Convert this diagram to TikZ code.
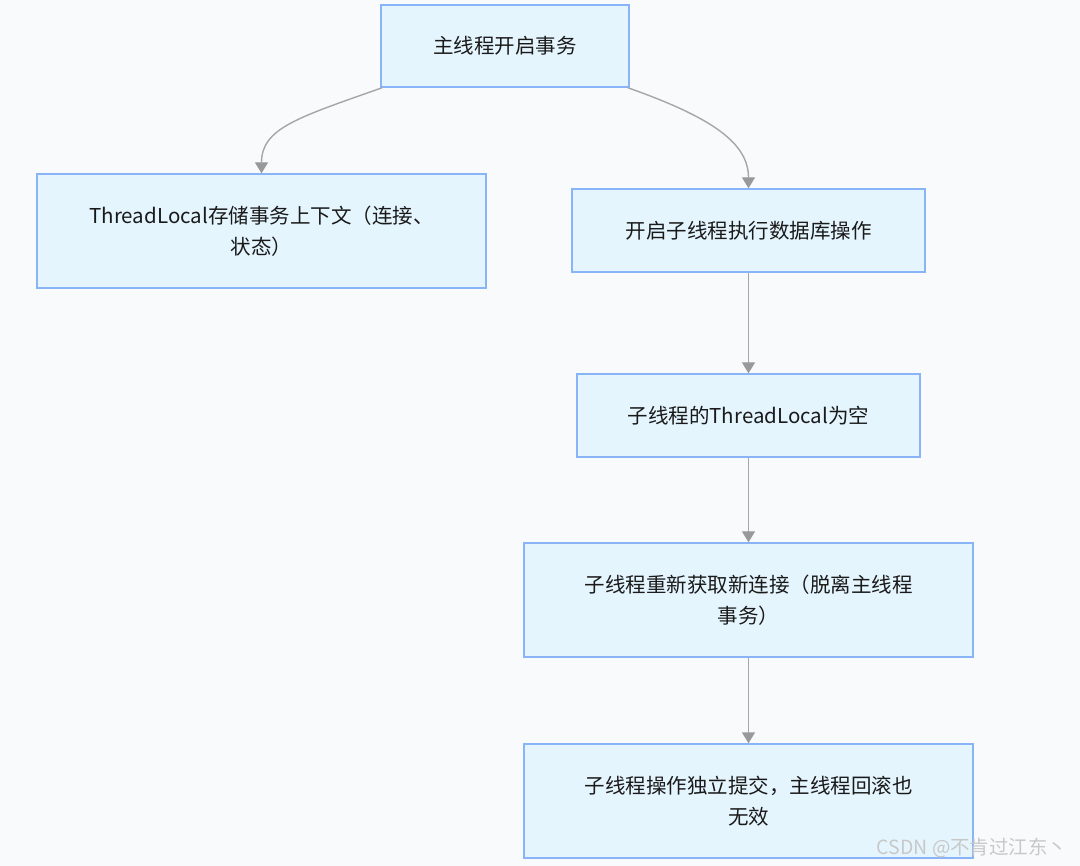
\documentclass[tikz,border=0pt]{standalone}
\usepackage{fontspec}
\setmainfont{Noto Sans CJK SC}
\usetikzlibrary{arrows.meta}
\definecolor{bgc}{HTML}{F8FAFC}
\definecolor{boxfill}{HTML}{E5F5FE}
\definecolor{boxline}{HTML}{8AB4F8}
\definecolor{edgec}{HTML}{A6A6A6}
\definecolor{tipc}{HTML}{999999}
\definecolor{txt}{HTML}{1A1A1A}
\definecolor{wm}{HTML}{C8C8C8}
\begin{document}
\begin{tikzpicture}[x=1pt,y=-1pt,
  stepbox/.style={draw=boxline,fill=boxfill,line width=1.4pt,inner sep=0pt,
    align=center,text=txt,font=\fontsize{20.5}{31}\selectfont},
  flow/.style={draw=edgec,line width=1.4pt,
    -{Triangle[width=13pt,length=11pt,fill=tipc,color=tipc]}}]
\fill[bgc] (0,0) rectangle (1080,866);
\useasboundingbox (0,0) rectangle (1080,866);
\node[stepbox,minimum width=248pt,minimum height=82pt] (A) at (505,46) {主线程开启事务};
\node[stepbox,minimum width=449pt,minimum height=114pt] (B) at (261.5,231) {ThreadLocal存储事务上下文（连接、\\状态）};
\node[stepbox,minimum width=353pt,minimum height=83pt] (C) at (748.5,230.5) {开启子线程执行数据库操作};
\node[stepbox,minimum width=343pt,minimum height=83pt] (D) at (748.5,415.5) {子线程的ThreadLocal为空};
\node[stepbox,minimum width=449pt,minimum height=114pt] (E) at (748.5,600) {子线程重新获取新连接（脱离主线程\\事务）};
\node[stepbox,minimum width=449pt,minimum height=114pt] (F) at (748.5,801) {子线程操作独立提交，主线程回滚也\\无效};
\draw[flow] ([xshift=2pt]A.south west) .. controls +(-85,30) and +(0,-45) .. (B.north);
\draw[flow] ([xshift=-2pt]A.south east) .. controls +(85,30) and +(0,-45) .. (C.north);
\draw[flow] (C.south) -- (D.north);
\draw[flow] (D.south) -- (E.north);
\draw[flow] (E.south) -- (F.north);
\node[text=wm,font=\fontsize{19.5}{21}\selectfont,anchor=east] (W) at (1071,848) {CSDN @不肯过江东丶};
\end{tikzpicture}
\end{document}
